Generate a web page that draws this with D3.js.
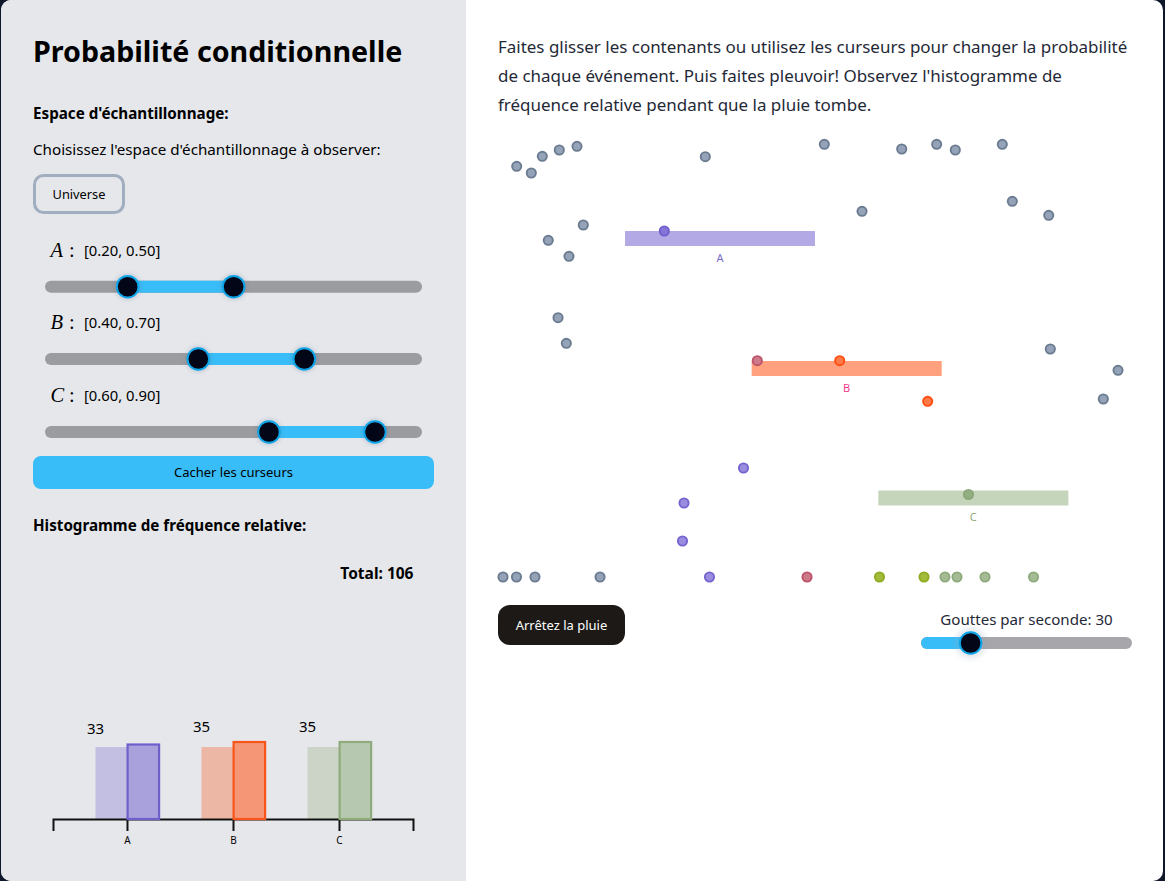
<!DOCTYPE html>
<html><head><meta charset="utf-8">
<script src="https://cdnjs.cloudflare.com/ajax/libs/d3/7.8.5/d3.min.js"></script>
<style>
html,body{margin:0;padding:0;background:#0f172a;overflow:hidden}
svg{display:block}
text{font-family:"Noto Sans",sans-serif;fill:#000}
.math{font-family:"Liberation Serif",serif;font-style:italic}
.mathc{font-family:"Liberation Serif",serif}
</style></head><body>
<svg id="page" width="1165" height="881"></svg>
<script>
// ---- data ----
const events = ["A","B","C"];
const intervalLow = [0.2,0.4,0.6];
const intervalHigh = [0.5,0.7,0.9];
const intervalLabels = ["[0.20, 0.50]","[0.40, 0.70]","[0.60, 0.90]"];
const containerTop = [231,361,490.5];
const observedCounts = [33,35,35];
const observedBarValues = [33.86,35,35];
const expectedBarValues = [32.7,32.7,32.7];
const totalDrops = 106;
const dropRate = 30;
const dropRateMax = 150;
// drops: kind, x as a fraction of the rain field, y in field pixels
const dropKind = ["n","n","n","n","n","n","n","n","n","n","n","n","aIn","ab","n","n","n","n","n","n","n","n","n","n","b","b","a","a","a","cIn","n","n","n","n","a","ab","c1","c1","c","c","c","c"];
const dropX = [.02905,.0521,.06947,.0963,.12425,.3268,.5147,.1342,.0789,.1116,.0943,.1074,.2621,.4089,.6369,.6921,.7215,.7957,.8115,.8690,.5742,.8715,.9784,.9552,.5390,.6779,.3871,.2932,.2908,.7423,.0074,.0287,.0579,.1606,.3334,.4874,.6018,.6721,.7052,.7242,.7684,.8450];
const dropY = [166.3,173,156.3,150,146.3,156.7,144.3,225,240.3,256.3,317.7,343.3,231,360.7,149,144.3,150,144.3,201.3,215.3,211.3,349,370.3,399,360.7,401.3,468,503,541,494.5,577,577,577,577,577,577,577,577,577,577,577,577];
</script>
<script>
const svg = d3.select("#page");
const C = {panel:"#e5e7eb",track:"#9b9ca0",blue:"#38bdf8",knob:"#020617",knobRing:"#0ea5e9"};

// page
svg.append("rect").attr("width",1165).attr("height",881).attr("fill","#0f172a");
svg.append("rect").attr("x",1).attr("width",1162).attr("height",881).attr("rx",10).attr("fill","#fff");
svg.append("path").attr("d","M466,0H11A10,10 0 0 0 1,10V871A10,10 0 0 0 11,881H466Z").attr("fill",C.panel);

function T(x,y,s,o={}){const t=svg.append("text").attr("x",x).attr("y",y).text(s);
 t.style("font-size",(o.size||14)+"px").style("font-weight",o.w||400);
 if(o.fill)t.style("fill",o.fill); if(o.anchor)t.attr("text-anchor",o.anchor); if(o.cls)t.attr("class",o.cls); return t;}

T(33,62,"Probabilité conditionnelle",{size:28.65,w:700});
T(33,119,"Espace d'échantillonnage:",{size:15.2,w:700});
T(33,155,"Choisissez l'espace d'échantillonnage à observer:",{size:15.2});
svg.append("rect").attr("x",34.5).attr("y",175.5).attr("width",89).attr("height",37).attr("rx",9).attr("fill","none").attr("stroke","#a0aebf").attr("stroke-width",3);
T(79,199,"Universe",{size:12.8,anchor:"middle"});

// sliders
const sx = d3.scaleLinear().domain([0,1]).range([57,410.3]);
const sliderY = [286.7,359,432];
function knob(x,y){
 svg.append("circle").attr("cx",x).attr("cy",y).attr("r",13).attr("fill","#64748b").attr("opacity",.25).style("filter","blur(2px)");
 svg.append("circle").attr("cx",x).attr("cy",y).attr("r",10.8).attr("fill",C.knob).attr("stroke",C.knobRing).attr("stroke-width",2);
}
events.forEach((e,i)=>{
 const y=sliderY[i];
 T(50.5,y-30,e,{cls:"math",size:20.5});
 T(69,y-30,":",{cls:"mathc",size:20.5});
 T(84,y-31,intervalLabels[i],{size:14.8});
 svg.append("rect").attr("x",45).attr("y",y-6).attr("width",377).attr("height",12).attr("rx",6).attr("fill",C.track);
 svg.append("rect").attr("x",sx(intervalLow[i])).attr("y",y-6).attr("width",sx(intervalHigh[i])-sx(intervalLow[i])).attr("height",12).attr("fill",C.blue);
 knob(sx(intervalLow[i]),y); knob(sx(intervalHigh[i]),y);
});
svg.append("rect").attr("x",33).attr("y",456).attr("width",401).attr("height",33).attr("rx",8).attr("fill",C.blue);
T(233.5,477,"Cacher les curseurs",{size:13,anchor:"middle"});
T(33,531,"Histogramme de fréquence relative:",{size:15.2,w:700});
T(413.5,579,"Total: "+totalDrops,{size:15.5,w:700,anchor:"end"});

// histogram
const hx = d3.scalePoint().domain(events).range([53,413]).padding(0.698);
const hy = d3.scaleLinear().domain([0,35]).range([819,742]);
const barW = 31.5;
const hFill = {A:"#a9a1dc",B:"#f59677",C:"#b6c9b0"};
const hLight = {A:"#c3bfe3",B:"#edb7a5",C:"#cbd4c6"};
const hStroke = {A:"#6f5fcb",B:"#f9541a",C:"#8fab7c"};
svg.append("g").selectAll("rect").data(events).join("rect").attr("x",d=>hx(d)-barW).attr("y",(d,i)=>hy(expectedBarValues[i])).attr("width",barW).attr("height",(d,i)=>hy(0)-hy(expectedBarValues[i])).attr("fill",d=>hLight[d]);
const ax = d3.axisBottom(hx).tickSize(12).tickPadding(6);
const ag = svg.append("g").attr("transform","translate(0,819)").call(ax);
ag.selectAll("path,line").attr("stroke","#111").attr("stroke-width",2);
ag.selectAll("text").style("font-size","10px").style("font-family","'Noto Sans',sans-serif").style("fill","#000");
const obs = svg.append("g");
obs.selectAll("rect").data(events).join("rect").attr("x",d=>hx(d)+.6).attr("y",(d,i)=>hy(observedBarValues[i])).attr("width",barW).attr("height",(d,i)=>hy(0)-hy(observedBarValues[i])).attr("fill",d=>hFill[d]).attr("stroke",d=>hStroke[d]).attr("stroke-width",2.2);
obs.selectAll("text").data(events).join("text").attr("x",d=>hx(d)-31.5).attr("y",(d,i)=>hy(observedBarValues[i])-10.5).attr("text-anchor","middle").style("font-size","15px").text((d,i)=>observedCounts[i]);

// right text
["Faites glisser les contenants ou utilisez les curseurs pour changer la probabilité",
 "de chaque événement. Puis faites pleuvoir! Observez l'histogramme de",
 "fréquence relative pendant que la pluie tombe."].forEach((s,i)=>T(498,53+i*29,s,{size:16.97,fill:"#1f2937"}));

// containers
const fx = d3.scaleLinear().domain([0,1]).range([498.3,1131.7]);
const cFill = {A:"#b3a9e5",B:"#ffa17f",C:"#c4d5bb"};
const cText = {A:"#7a6cc8",B:"#f0398a",C:"#8fab7c"};
svg.append("g").selectAll("rect").data(events).join("rect").attr("x",(d,i)=>fx(intervalLow[i])).attr("y",(d,i)=>containerTop[i]).attr("width",(d,i)=>fx(intervalHigh[i])-fx(intervalLow[i])).attr("height",15).attr("fill",d=>cFill[d]);
svg.append("g").selectAll("text").data(events).join("text").attr("x",(d,i)=>(fx(intervalLow[i])+fx(intervalHigh[i]))/2).attr("y",(d,i)=>containerTop[i]+30.5).attr("text-anchor","middle").style("font-size","11px").style("fill",d=>cText[d]).text(d=>d);

// drops
const dropFill={n:"#94a3b8",a:"#9a8de0",aIn:"#8576d8",b:"#ff7a4a",ab:"#cc7a8a",c:"#a5bb95",cIn:"#93ae82",c1:"#a3bb3a"};
const dropStroke={n:"#6b7b90",a:"#7564cf",aIn:"#6f5fd0",b:"#ff4d0d",ab:"#bd5268",c:"#8fab7c",cIn:"#8aa778",c1:"#8fab20"};
const drops = dropKind.map((k,i)=>({k,x:dropX[i],y:dropY[i]}));
svg.append("g").selectAll("circle").data(drops).join("circle").attr("cx",d=>fx(d.x)).attr("cy",d=>d.y).attr("r",4.6).attr("fill",d=>dropFill[d.k]).attr("stroke",d=>dropStroke[d.k]).attr("stroke-width",1.9);

// rain button
svg.append("rect").attr("x",498).attr("y",605).attr("width",127).attr("height",40).attr("rx",12).attr("fill","#1c1917");
T(561.5,630,"Arrêtez la pluie",{size:13,anchor:"middle",fill:"#fff"});

// rate slider
const rx = d3.scaleLinear().domain([0,dropRateMax]).range([932,1125]);
T(1026.5,625,"Gouttes par seconde: "+dropRate,{size:15.1,anchor:"middle",fill:"#1f2937"});
svg.append("rect").attr("x",921).attr("y",637).attr("width",211).attr("height",12).attr("rx",6).attr("fill","#a6a6ab");
svg.append("path").attr("d",`M${rx(dropRate)},637H927a6,6 0 0 0 0,12H${rx(dropRate)}Z`).attr("fill",C.blue);
svg.append("circle").attr("cx",rx(dropRate)).attr("cy",643).attr("r",15).attr("fill","#94a3b8").attr("opacity",.3).style("filter","blur(3px)");
svg.append("circle").attr("cx",rx(dropRate)).attr("cy",643).attr("r",10.8).attr("fill",C.knob).attr("stroke",C.knobRing).attr("stroke-width",2);
</script></body></html>
